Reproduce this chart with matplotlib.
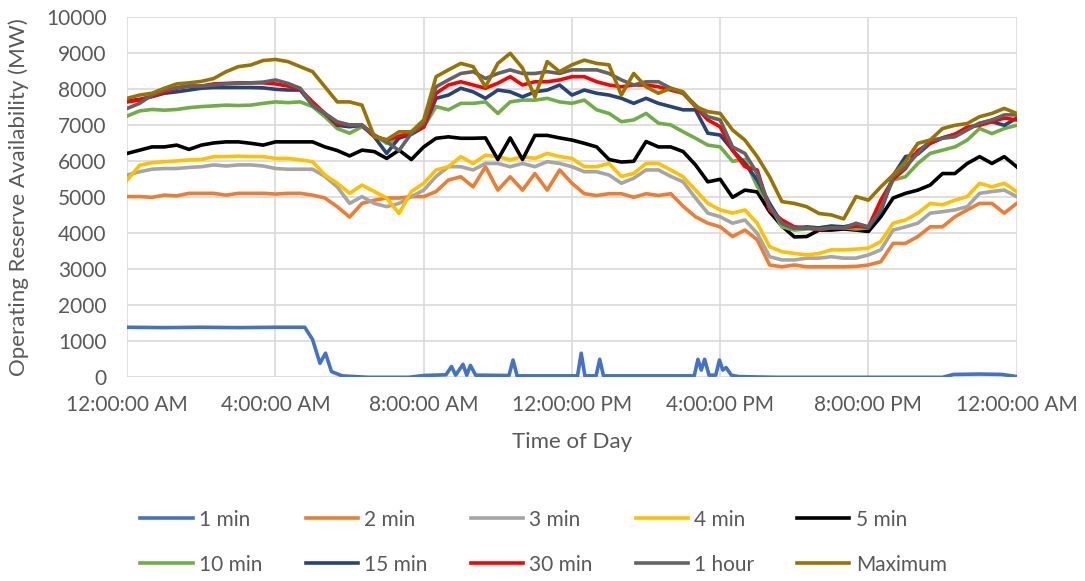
import numpy as np
import matplotlib.pyplot as plt
from matplotlib.ticker import MultipleLocator

plt.rcParams['font.family'] = ['Lato', 'DejaVu Sans']

# 20-minute steps over the day (hours)
hours = np.arange(73) / 3.0

min2 = [5020, 5020, 5000, 5060, 5040, 5110, 5110, 5110, 5060, 5110, 5110, 5110, 5090, 5110, 5110, 5060, 4980, 4740, 4450,
        4830, 4920, 4980, 4980, 5020, 5020, 5160, 5480, 5570, 5290, 5850, 5200, 5570, 5200, 5660, 5200, 5760, 5390,
        5100, 5050, 5100, 5100, 5000, 5100, 5050, 5100, 4750, 4460, 4280, 4180, 3910, 4090, 3820, 3120, 3070, 3120,
        3070, 3070, 3070, 3070, 3080, 3120, 3210, 3720, 3720, 3910, 4180, 4180, 4460, 4650, 4830, 4830, 4560, 4830]
min3 = [5620, 5710, 5780, 5800, 5800, 5830, 5850, 5900, 5870, 5900, 5900, 5870, 5800, 5780, 5780, 5780, 5580, 5290, 4830,
        5020, 4830, 4740, 4830, 5020, 5200, 5580, 5850, 5850, 5760, 5940, 5940, 5850, 5940, 5850, 5990, 5940, 5850,
        5710, 5710, 5620, 5390, 5530, 5760, 5760, 5580, 5430, 4980, 4560, 4460, 4280, 4370, 4000, 3350, 3260, 3260,
        3310, 3310, 3350, 3310, 3310, 3400, 3540, 4090, 4180, 4280, 4560, 4600, 4650, 4740, 5110, 5160, 5200, 5020]
min4 = [5480, 5890, 5960, 5990, 6010, 6040, 6050, 6130, 6130, 6140, 6130, 6130, 6080, 6080, 6040, 5990, 5620, 5390, 5110,
        5340, 5160, 4980, 4550, 5160, 5390, 5760, 5850, 6130, 5940, 6170, 6130, 6040, 6130, 6080, 6220, 6130, 6080,
        5850, 5850, 5940, 5580, 5660, 5940, 5940, 5760, 5570, 5200, 4830, 4650, 4560, 4650, 4280, 3630, 3490, 3440,
        3400, 3440, 3540, 3540, 3560, 3590, 3770, 4280, 4370, 4560, 4830, 4790, 4920, 5020, 5390, 5290, 5390, 5160]
min5 = [6220, 6310, 6400, 6400, 6450, 6330, 6450, 6510, 6540, 6540, 6500, 6450, 6540, 6540, 6540, 6540, 6400, 6300, 6150,
        6310, 6270, 6080, 6310, 6050, 6400, 6640, 6680, 6640, 6640, 6650, 6050, 6650, 6050, 6720, 6720, 6650, 6590,
        6500, 6400, 6050, 5980, 6000, 6550, 6400, 6400, 6270, 5900, 5430, 5500, 5000, 5200, 5150, 4600, 4200, 3900,
        3910, 4090, 4090, 4120, 4090, 4050, 4460, 4980, 5110, 5200, 5340, 5660, 5660, 5940, 6130, 5940, 6130, 5850]
min10 = [7260, 7400, 7440, 7420, 7440, 7490, 7520, 7540, 7560, 7550, 7560, 7610, 7650, 7630, 7650, 7520, 7240, 6910, 6780,
         6960, 6730, 6500, 6640, 6780, 6960, 7520, 7430, 7610, 7610, 7650, 7330, 7650, 7700, 7700, 7750, 7650, 7610,
         7700, 7430, 7330, 7100, 7150, 7330, 7060, 7010, 6820, 6640, 6450, 6400, 6000, 6050, 5300, 4800, 4180, 4090,
         4120, 4150, 4200, 4150, 4120, 4150, 4700, 5480, 5570, 5940, 6220, 6310, 6400, 6590, 6910, 6770, 6910, 7000]
min15 = [7680, 7720, 7800, 7890, 7930, 7980, 8030, 8050, 8050, 8050, 8050, 8040, 8000, 7980, 7980, 7560, 7330, 7000, 6960,
         7000, 6680, 6220, 6650, 6750, 6950, 7750, 7840, 8030, 7930, 7750, 7980, 7930, 7790, 7930, 7980, 8120, 7840,
         7980, 7890, 7840, 7750, 7610, 7750, 7610, 7520, 7430, 7430, 6780, 6730, 6310, 5940, 5480, 4830, 4280, 4140,
         4180, 4150, 4200, 4180, 4250, 4150, 4600, 5600, 6130, 6200, 6500, 6650, 6750, 6900, 7050, 7100, 7000, 7200]
min30 = [7650, 7700, 7800, 7930, 8030, 8090, 8090, 8150, 8165, 8180, 8180, 8180, 8150, 8090, 8000, 7650, 7330, 7050, 7010,
         7010, 6700, 6590, 6700, 6800, 6960, 7890, 8120, 8210, 8120, 8030, 8170, 8350, 8120, 8210, 8210, 8260, 8350,
         8350, 8210, 8120, 8070, 8120, 8120, 8070, 7980, 7890, 7520, 7150, 6960, 6310, 5850, 5760, 4650, 4370, 4180,
         4150, 4100, 4150, 4150, 4200, 4180, 4920, 5500, 5800, 6300, 6500, 6650, 6750, 6950, 7000, 7100, 7200, 7150]
hour1 = [7470, 7610, 7840, 7980, 8050, 8090, 8090, 8120, 8150, 8165, 8180, 8200, 8260, 8165, 8030, 7560, 7330, 7100, 7010,
         7010, 6730, 6540, 6300, 6780, 7060, 8070, 8260, 8440, 8490, 8300, 8440, 8540, 8440, 8440, 8490, 8440, 8540,
         8540, 8540, 8440, 8260, 8120, 8210, 8210, 8030, 7890, 7560, 7240, 7150, 6400, 6220, 5660, 4740, 4280, 4140,
         4150, 4120, 4150, 4150, 4280, 4180, 4650, 5570, 5850, 6220, 6590, 6640, 6680, 6870, 7060, 7150, 7290, 7290]
maximum = [7750, 7840, 7890, 8030, 8150, 8180, 8220, 8300, 8490, 8630, 8675, 8800, 8830, 8770, 8630, 8490, 8070, 7650, 7650,
           7560, 6680, 6600, 6820, 6820, 7150, 8350, 8540, 8720, 8630, 8070, 8720, 9000, 8590, 7790, 8770, 8490, 8680,
           8810, 8720, 8680, 7840, 8440, 8070, 7890, 8030, 7930, 7520, 7380, 7330, 6870, 6590, 6130, 5570, 4880, 4830,
           4740, 4550, 4510, 4400, 5020, 4920, 5290, 5620, 5990, 6500, 6590, 6910, 7000, 7050, 7240, 7330, 7470, 7330]

# 1 min series has its own (finer) time points because of the narrow spikes
min1_hours = [0, 1, 2, 3, 4, 4.79, 5.0, 5.2, 5.35, 5.51, 5.8, 6.5, 7.6, 8.0, 8.6, 8.75, 8.86, 9.06, 9.16, 9.26, 9.4,
              10.3, 10.41, 10.52, 12.15, 12.25, 12.35, 12.65, 12.75, 12.85, 15.3, 15.4, 15.49, 15.58, 15.7, 15.88,
              15.98, 16.07, 16.16, 16.3, 16.5, 17.5, 22.0, 22.3, 23.0, 23.6, 24]
min1 = [1390, 1380, 1390, 1380, 1390, 1390, 1050, 390, 670, 160, 40, 0, 0, 50, 70, 300, 60, 360, 60, 330, 60,
        50, 480, 40, 40, 670, 40, 40, 500, 40, 40, 500, 200, 500, 60, 60,
        480, 200, 270, 60, 20, 0, 0, 80, 90, 80, 20]

series = [("1 min", min1_hours, min1, "#4472C4"),
          ("2 min", hours, min2, "#ED7D31"),
          ("3 min", hours, min3, "#A5A5A5"),
          ("4 min", hours, min4, "#FFC000"),
          ("5 min", hours, min5, "#000000"),
          ("10 min", hours, min10, "#70AD47"),
          ("15 min", hours, min15, "#264478"),
          ("30 min", hours, min30, "#FF0000"),
          ("1 hour", hours, hour1, "#636363"),
          ("Maximum", hours, maximum, "#997300")]

tick_labels = ["12:00:00 AM", "4:00:00 AM", "8:00:00 AM", "12:00:00 PM",
               "4:00:00 PM", "8:00:00 PM", "12:00:00 AM"]

fig = plt.figure(figsize=(10.85, 5.81), dpi=100)
ax = fig.add_axes([0.1173, 0.3506, 0.8197, 0.6196])

lines = []
for name, x, y, c in series:
    ln, = ax.plot(x, y, color=c, linewidth=2.6, label=name, solid_joinstyle="round")
    lines.append(ln)

ax.set_xlim(0, 24)
ax.set_ylim(0, 10000)
ax.set_xticks(np.arange(0, 25, 4))
ax.set_xticklabels(tick_labels)
ax.yaxis.set_major_locator(MultipleLocator(1000))
ax.grid(True, color="#D9D9D9", linewidth=1.2)
ax.set_axisbelow(True)
for s in ax.spines.values():
    s.set_visible(False)
ax.tick_params(axis="both", length=0, labelsize=15, labelcolor="#595959")
ax.tick_params(axis="x", pad=13)
ax.tick_params(axis="y", pad=15)

ax.set_xlabel("Time of Day", fontsize=16, color="#595959", labelpad=12)
ax.set_ylabel("Operating Reserve Availability (MW)", fontsize=16, color="#595959", labelpad=12)

# legend fills column by column, so interleave the two rows
order = [0, 5, 1, 6, 2, 7, 3, 8, 4, 9]
fig.legend([lines[i] for i in order], [series[i][0] for i in order],
           loc="center", bbox_to_anchor=(0.501, 0.067), ncol=5, frameon=False,
           fontsize=15, handlelength=2.5, handletextpad=0.3, columnspacing=2.08,
           labelspacing=1.2, labelcolor="#595959")

plt.savefig("out.png", dpi=100)
